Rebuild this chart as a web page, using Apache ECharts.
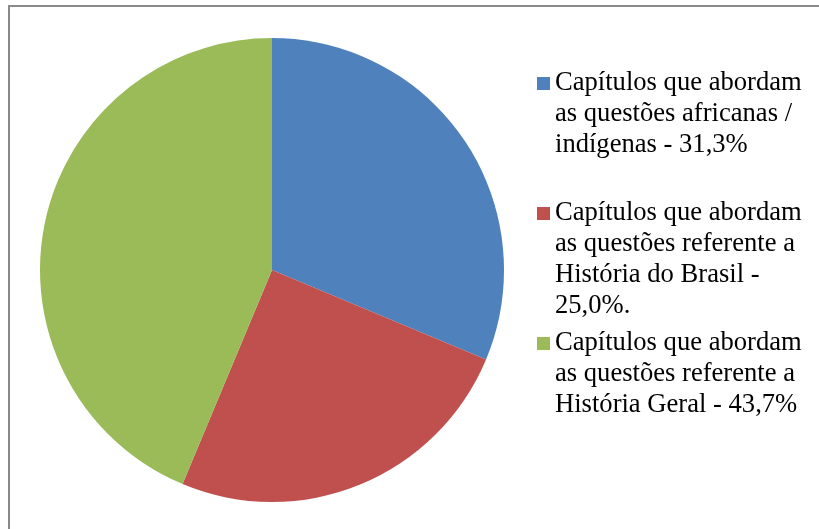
<!DOCTYPE html>
<html>
<head>
<meta charset="utf-8">
<script src="https://cdn.jsdelivr.net/npm/echarts@6/dist/echarts.min.js"></script>
<style>
html,body{margin:0;padding:0;background:#fff;}
#chart{width:819px;height:529px;}
</style>
</head>
<body>
<div id="chart"></div>
<script>
const categories = [
  "Capítulos que abordam\nas questões africanas /\nindígenas - 31,3%",
  "Capítulos que abordam\nas questões referente a\nHistória do Brasil -\n25,0%.",
  "Capítulos que abordam\nas questões referente a\nHistória Geral - 43,7%"
];
const values = [31.3, 25.0, 43.7];
const colors = ["#4F81BD", "#C0504D", "#9BBB59"];

const LH = 31;
const firstLineCenters = [83.5, 213.5, 343.5];
const SQ = 13;

function iconPath(h) {
  const c = LH / 2;
  const a = c - SQ / 2, b = c + SQ / 2;
  return 'path://M0,' + a + 'L' + SQ + ',' + a + 'L' + SQ + ',' + b + 'L0,' + b + 'Z' +
    'M0,0L0.01,0L0,0.01Z' +
    'M' + SQ + ',' + h + 'L' + (SQ - 0.01) + ',' + h + 'L' + SQ + ',' + (h - 0.01) + 'Z';
}

const chart = echarts.init(document.getElementById('chart'));
const legends = categories.map((name, i) => {
  const n = name.split("\n").length;
  const h = n * LH;
  return {
    data: [name],
    orient: 'vertical',
    left: 537,
    top: firstLineCenters[i] - LH / 2,
    padding: 0,
    itemWidth: SQ,
    itemHeight: h,
    icon: iconPath(h),
    symbolKeepAspect: true,
    selectedMode: false,
    itemStyle: { borderWidth: 0 },
    textStyle: {
      fontFamily: 'Liberation Serif',
      fontSize: 26.6,
      color: '#000',
      lineHeight: LH
    }
  };
});

chart.setOption({
  animation: false,
  backgroundColor: '#fff',
  color: colors,
  graphic: [{
    type: 'rect',
    shape: { x: 9, y: 6, width: 830, height: 540 },
    style: { fill: 'none', stroke: '#8a8a8a', lineWidth: 2 },
    silent: true
  }],
  legend: legends,
  series: [{
    type: 'pie',
    center: [272, 270],
    radius: 232,
    startAngle: 90,
    clockwise: true,
    label: { show: false },
    labelLine: { show: false },
    emphasis: { disabled: true },
    itemStyle: { borderWidth: 0 },
    data: categories.map((c, i) => ({ name: c, value: values[i] }))
  }]
});
</script>
</body>
</html>
